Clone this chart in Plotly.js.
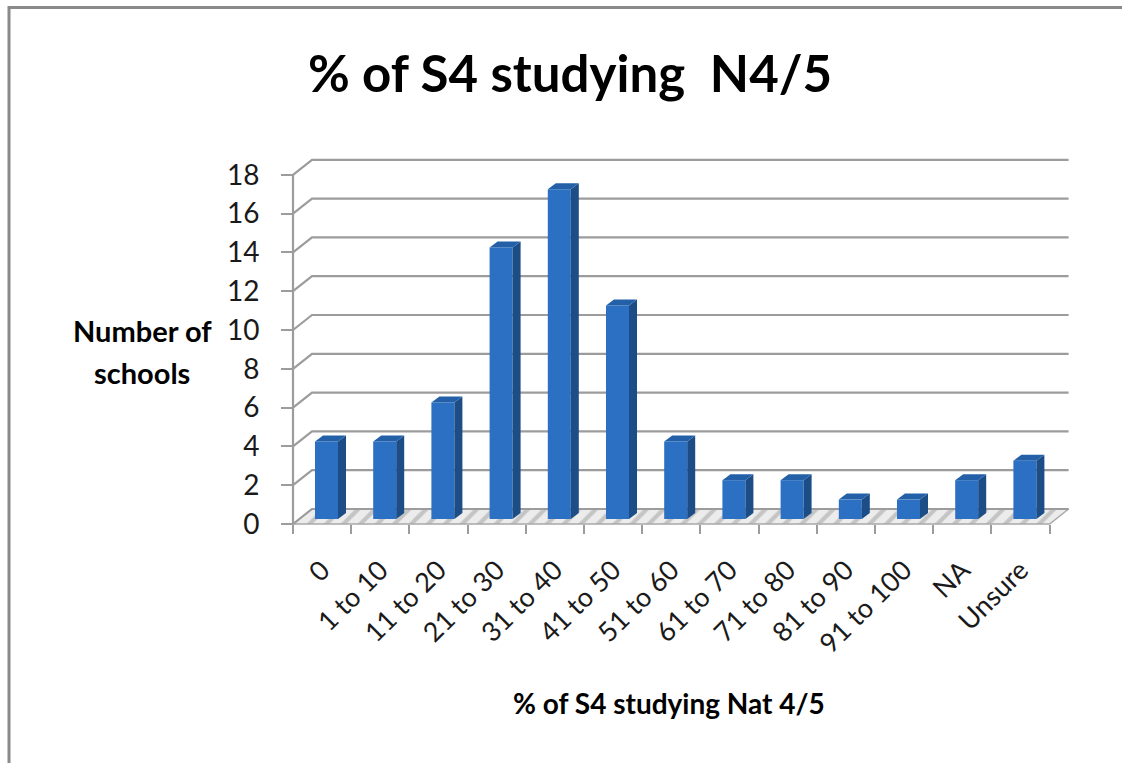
<!DOCTYPE html>
<html>
<head>
<meta charset="utf-8">
<script src="https://cdn.plot.ly/plotly-3.0.1.min.js"></script>
<style>html,body{margin:0;padding:0;background:#fff;}#chart{width:1122px;height:763px;}</style>
</head>
<body>
<div id="chart"></div>
<script>
// ---- data ----
const categories = ['0','1 to 10','11 to 20','21 to 30','31 to 40','41 to 50','51 to 60','61 to 70','71 to 80','81 to 90','91 to 100','NA','Unsure'];
const schools = [4, 4, 6, 14, 17, 11, 4, 2, 2, 1, 1, 2, 3];
const yTickVals = [0, 2, 4, 6, 8, 10, 12, 14, 16, 18];
const chartTitle = '% of S4 studying  N4/5';
const xTitle = '% of S4 studying Nat 4/5';
const yTitleLines = ['Number of', 'schools'];

// ---- geometry (pixels) ----
const W = 1122, H = 763;
const X0 = 293;        // px of left boundary (x=-0.5)
const catW = 58.2;     // px per category
const Y0 = 524;        // px of value 0
const unit = 19.4;     // px per unit
const dx = 19 / catW, dy = 15 / unit;     // back-wall depth offset (data units)
const offx = 4.4 / catW, offy = 5 / unit; // bar placement within depth
const bw = 23 / catW;                     // bar width
const sdx = 8 / catW, sdy = 6 / unit;     // bar depth
const n = categories.length;
const xmax = n - 0.5;

const xr = [-0.6, xmax + dx + 0.1];
const yr = [-0.2, yTickVals[yTickVals.length - 1] + dy + 0.2];
const pxL = X0 + (xr[0] + 0.5) * catW, pxR = X0 + (xr[1] + 0.5) * catW;
const pyB = Y0 - yr[0] * unit, pyT = Y0 - yr[1] * unit;
const xdom = [pxL / W, pxR / W];
const ydom = [1 - pyB / H, 1 - pyT / H];

const FONT = 'Lato, "Open Sans", sans-serif';
const gridColor = '#9c9c9c';

const traces = [];

// floor
traces.push({
  type: 'scatter', mode: 'lines', xaxis: 'x', yaxis: 'y', hoverinfo: 'skip', showlegend: false,
  x: [-0.5, xmax, xmax + dx, -0.5 + dx, -0.5],
  y: [0, 0, dy, dy, 0],
  fill: 'toself', fillcolor: '#e2e2e2',
  fillpattern: {shape: '/', bgcolor: '#ececec', fgcolor: '#c4c4c4', size: 12, solidity: 0.35},
  line: {color: '#a8a8a8', width: 1.5}
});

// back-wall gridlines + diagonals to the axis
const gx = [], gy = [];
yTickVals.forEach(v => {
  gx.push(-0.5, -0.5 + dx, xmax + dx, null);
  gy.push(v, v + dy, v + dy, null);
});
traces.push({
  type: 'scatter', mode: 'lines', xaxis: 'x', yaxis: 'y', hoverinfo: 'skip', showlegend: false,
  x: gx, y: gy, line: {color: gridColor, width: 2.2}
});
// y-axis line
traces.push({
  type: 'scatter', mode: 'lines', xaxis: 'x', yaxis: 'y', hoverinfo: 'skip', showlegend: false,
  x: [-0.5, -0.5], y: [0, yTickVals[yTickVals.length - 1]], line: {color: gridColor, width: 2.2}
});

// bar front faces
traces.push({
  type: 'bar', xaxis: 'x2', yaxis: 'y2', showlegend: false,
  x: categories.map((c, i) => i + offx), y: schools, base: offy, width: bw,
  marker: {color: '#2b70c2', line: {width: 0}},
  hovertext: categories, hoverinfo: 'text+y'
});
// sides and tops
schools.forEach((v, i) => {
  const xl = i + offx - bw / 2, xrr = i + offx + bw / 2;
  traces.push({
    type: 'scatter', mode: 'lines', xaxis: 'x2', yaxis: 'y2', hoverinfo: 'skip', showlegend: false,
    x: [xrr, xrr + sdx, xrr + sdx, xrr, xrr],
    y: [offy, offy + sdy, offy + v + sdy, offy + v, offy],
    fill: 'toself', fillcolor: '#1c4d86', line: {width: 0}
  });
  traces.push({
    type: 'scatter', mode: 'lines', xaxis: 'x2', yaxis: 'y2', hoverinfo: 'skip', showlegend: false,
    x: [xl, xrr, xrr + sdx, xl + sdx, xl],
    y: [offy + v, offy + v, offy + v + sdy, offy + v + sdy, offy + v],
    fill: 'toself', fillcolor: '#2360a8', line: {width: 0}
  });
});

const layout = {
  width: W, height: H,
  margin: {l: 0, r: 0, t: 0, b: 0},
  paper_bgcolor: '#ffffff', plot_bgcolor: 'rgba(0,0,0,0)',
  showlegend: false,
  title: {
    text: chartTitle, x: 570 / W, xanchor: 'center', xref: 'paper',
    y: 1 - 74 / H, yanchor: 'middle', yref: 'paper',
    font: {family: FONT, size: 51, color: '#000', weight: 'bold'}
  },
  xaxis: {
    domain: xdom, range: xr, type: 'linear', anchor: 'free', position: 1 - Y0 / H,
    showgrid: false, zeroline: false, showline: false,
    tickmode: 'array', tickvals: categories.map((c, i) => i), ticktext: categories,
    ticks: '', tickangle: -45, ticklabelstandoff: 24,
    tickfont: {family: FONT, size: 27, color: '#1a1a1a'},
    minor: {tickmode: 'array', tickvals: Array.from({length: n + 1}, (_, k) => k - 0.5),
            ticks: 'outside', ticklen: 9, tickwidth: 2, tickcolor: gridColor, showgrid: false},
    fixedrange: true
  },
  yaxis: {
    domain: ydom, range: yr, anchor: 'free', position: X0 / W,
    showgrid: false, zeroline: false, showline: false,
    tickmode: 'array', tickvals: yTickVals,
    ticks: 'outside', ticklen: 12, tickwidth: 2, tickcolor: gridColor,
    ticklabelstandoff: 16,
    tickfont: {family: FONT, size: 28, color: '#1a1a1a'},
    fixedrange: true
  },
  xaxis2: {overlaying: 'x', anchor: 'y2', range: xr, visible: false, fixedrange: true},
  yaxis2: {overlaying: 'y', anchor: 'x2', range: yr, visible: false, fixedrange: true},
  annotations: [
    {text: xTitle, xref: 'paper', yref: 'paper', x: 669 / W, y: 1 - 703 / H, xanchor: 'center', yanchor: 'middle',
     showarrow: false, font: {family: FONT, size: 28, color: '#000', weight: 'bold'}},
    {text: yTitleLines[0], xref: 'paper', yref: 'paper', x: 142 / W, y: 1 - 330 / H, xanchor: 'center', yanchor: 'middle',
     showarrow: false, font: {family: FONT, size: 29, color: '#000', weight: 'bold'}},
    {text: yTitleLines[1], xref: 'paper', yref: 'paper', x: 142 / W, y: 1 - 372 / H, xanchor: 'center', yanchor: 'middle',
     showarrow: false, font: {family: FONT, size: 29, color: '#000', weight: 'bold'}}
  ],
  shapes: [
    {type: 'line', xref: 'paper', yref: 'paper', x0: 9 / W, x1: 1, y0: 1 - 7.5 / H, y1: 1 - 7.5 / H, line: {color: '#8a8a8a', width: 3}},
    {type: 'line', xref: 'paper', yref: 'paper', x0: 9 / W, x1: 9 / W, y0: 1 - 6 / H, y1: 0, line: {color: '#8a8a8a', width: 3}}
  ]
};

Plotly.newPlot('chart', traces, layout, {staticPlot: true, displayModeBar: false});
</script>
</body>
</html>
